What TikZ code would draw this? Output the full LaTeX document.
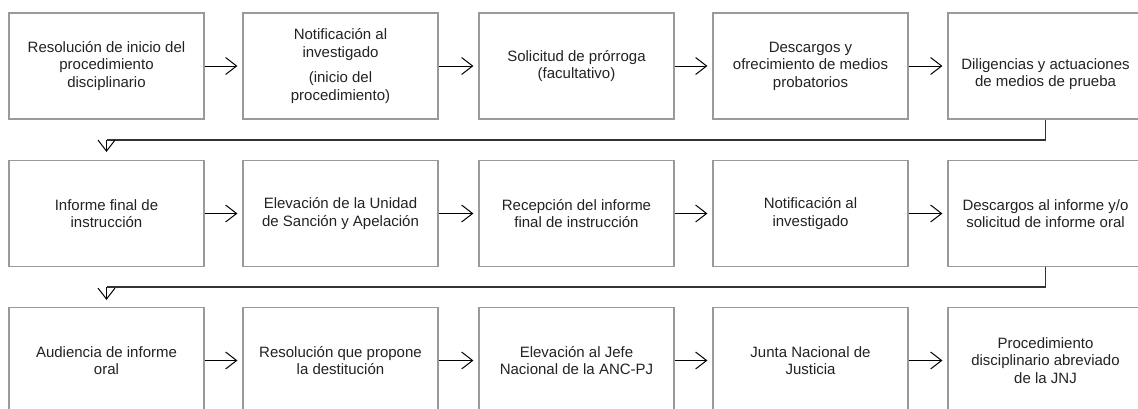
\documentclass[tikz,border=0pt]{standalone}
\usepackage{fontspec}
\setmainfont{Liberation Sans}
\usetikzlibrary{arrows.meta}
\definecolor{boxgray}{HTML}{9A9A9A}
\definecolor{ink}{HTML}{222222}
\tikzset{
  stepbox/.style={draw=boxgray, line width=1.2pt, minimum width=195pt, minimum height=106pt,
    inner sep=0pt, align=center, font=\fontsize{15}{17.5}\selectfont, text=ink},
  txt/.style={align=center, font=\fontsize{15}{17.5}\selectfont, text=ink, inner sep=0pt},
  flow/.style={draw=black, line width=1pt, -{Straight Barb[length=11pt,width=17pt,line width=1pt]}, shorten >=5pt},
  link/.style={draw=black!80, line width=1.3pt}
}
\begin{document}
\begin{tikzpicture}[x=1pt,y=-1pt]
\useasboundingbox (0,0) rectangle (1138,408);
\clip (0,0) rectangle (1138,408);
% row 1
\node[stepbox] (a1) at (106.5,66) {Resolución de inicio del\\procedimiento\\disciplinario};
\node[stepbox] (a2) at (340.5,66) {Notificación al\\investigado\\[8pt](inicio del\\procedimiento)};
\node[stepbox] (a3) at (576.5,66) {Solicitud de prórroga\\(facultativo)};
\node[stepbox] (a4) at (810.5,66) {Descargos y\\ofrecimiento de medios\\probatorios};
\node[stepbox, label={[txt, yshift=-8pt]center:Diligencias y actuaciones\\de medios de prueba}] (a5) at (1045.5,66) {};
% row 2
\node[stepbox] (b1) at (106.5,213.5) {Informe final de\\instrucción};
\node[stepbox] (b2) at (340.5,213.5) {Elevación de la Unidad\\de Sanción y Apelación};
\node[stepbox] (b3) at (576.5,213.5) {Recepción del informe\\final de instrucción};
\node[stepbox] (b4) at (810.5,213.5) {Notificación al\\investigado};
\node[stepbox] (b5) at (1045.5,213.5) {Descargos al informe y/o\\solicitud de informe oral};
% row 3
\node[stepbox] (c1) at (106.5,360.5) {Audiencia de informe\\oral};
\node[stepbox] (c2) at (340.5,360.5) {Resolución que propone\\la destitución};
\node[stepbox] (c3) at (576.5,360.5) {Elevación al Jefe\\Nacional de la ANC-PJ};
\node[stepbox] (c4) at (810.5,360.5) {Junta Nacional de\\Justicia};
\node[stepbox] (c5) at (1045.5,360.5) {Procedimiento\\disciplinario abreviado\\de la JNJ};
% horizontal arrows
\foreach \r in {a,b,c}{
  \draw[flow] (\r1.east) -- (\r2.west);
  \draw[flow] (\r2.east) -- (\r3.west);
  \draw[flow] (\r3.east) -- (\r4.west);
  \draw[flow] (\r4.east) -- (\r5.west);
}
% wrap connectors
\coordinate (k1) at (a5.south |- 0,140);
\coordinate (k2) at (a1.north |- 0,140);
\draw[link] (a5.south) -- (k1) -- (k2);
\draw[flow, shorten >=8pt] (k2) -- (b1.north);
\coordinate (m1) at (b5.south |- 0,287);
\coordinate (m2) at (b1.north |- 0,287);
\draw[link] (b5.south) -- (m1) -- (m2);
\draw[flow, shorten >=7pt] (m2) -- (c1.north);
\end{tikzpicture}
\end{document}
